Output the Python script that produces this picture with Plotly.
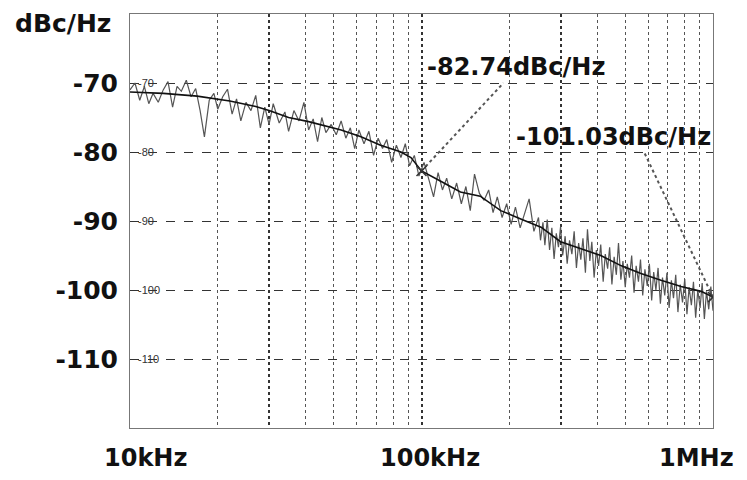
import plotly.graph_objects as go

# ---- data ----
noise_freq_khz = [10, 10.4, 10.8, 11.2, 11.6, 12, 12.5, 13, 13.5, 14,
                  14.5, 15, 15.6, 16.2, 16.8, 17.4, 18, 18.7, 19.4, 20,
                  20.8, 21.6, 22.4, 23.2, 24, 25, 26, 27, 28, 29, 30,
                  31, 32.5, 34, 35, 36.5, 38, 39.5, 41, 42.5, 44, 45.5, 47, 49,
                  51, 53, 55, 57, 59, 61, 63.5, 66, 68.5, 71, 73.5, 76, 79, 82, 85, 88, 91, 94.5, 98,
                  102, 106, 110, 114, 118, 122, 127, 132, 137, 142, 147, 152, 158, 164, 170, 176, 182,
                  189, 196, 203, 210, 218, 226, 234, 243,
                  252, 256, 261, 265, 270, 275, 280, 285, 290, 295,
                  300, 305, 311, 316, 322, 328, 334, 340, 346, 352,
                  358, 365, 371, 378, 384, 391, 398, 405, 412, 420,
                  427, 435, 442, 450, 458, 466, 474, 483, 491, 500,
                  508, 517, 526, 536, 545, 555, 564, 574, 584, 595,
                  605, 616, 626, 637, 648, 660, 671, 683, 695, 707,
                  720, 732, 745, 758, 772, 786, 800, 814, 828, 843,
                  857, 872, 887, 903, 918, 934, 950, 967, 983, 1000]
noise_dbc = [-71.0, -70.0, -72.5, -70.5, -73.0, -71.5, -72.8, -71.0, -69.8, -73.5, -70.5, -71.2, -69.6, -72.0,
             -70.8, -74.0, -77.8, -72.5, -71.5, -73.8, -72.0, -70.9, -74.5, -72.3, -75.5, -72.8, -74.0, -71.8,
             -76.5, -73.5, -76.0, -73.0, -75.8, -74.2, -77.0, -74.0, -75.5, -72.8, -76.8, -75.2, -78.5, -75.0,
             -77.2, -76.0, -77.5, -75.5, -78.0, -76.5, -79.5, -76.8, -78.8, -77.0, -80.5, -78.0, -79.5, -78.2,
             -81.5, -79.0, -80.8, -78.8, -82.0, -80.5, -83.5, -81.5, -84.0, -86.5, -83.0, -85.5, -83.8, -86.8,
             -84.5, -87.5, -85.0, -88.5, -83.2, -86.0, -87.0, -85.5, -88.8, -86.5, -89.5, -87.5, -90.5, -88.0,
             -91.0, -89.0, -86.8, -91.5,
             -89.5, -92.8, -90.2, -93.5, -89.8, -94.2, -91.0, -95.5, -91.8, -93.8,
             -90.8, -95.0, -92.2, -96.2, -92.8, -94.8, -91.5, -96.8, -93.2, -95.6,
             -92.5, -97.5, -91.2, -95.8, -93.0, -98.2, -94.2, -96.5, -93.4, -98.8,
             -94.8, -96.9, -93.8, -99.2, -95.2, -97.8, -93.2, -98.5, -95.8, -99.6,
             -96.2, -98.2, -95.0, -100.4, -96.5, -98.8, -95.6, -100.8, -97.0, -99.4,
             -96.2, -101.5, -97.4, -100.0, -96.8, -102.0, -98.2, -100.8, -97.5, -102.6,
             -98.6, -101.2, -97.8, -103.2, -99.2, -101.8, -98.4, -103.5, -99.6, -102.2,
             -98.8, -104.0, -100.0, -102.6, -99.0, -104.2, -100.2, -102.8, -99.5, -103.0]

trend_freq_khz = [10, 13, 17, 22, 27, 30, 35, 41, 53, 62, 72, 85, 92, 100, 116, 136, 159, 187, 219, 257,
                  300, 353, 412, 485, 566, 663, 777, 910, 1000]
trend_dbc = [-71.3, -71.5, -71.9, -72.6, -73.4, -74.0, -75.0, -75.6, -76.8, -77.8, -79.0, -80.0, -80.8, -82.74,
             -84.2, -85.8, -86.4, -88.5, -89.7, -90.9, -93.0, -94.0, -95.0, -96.5, -97.6, -98.6, -99.5, -100.2,
             -101.03]

marker_freq_khz = [100, 1000]
marker_dbc = [-82.74, -101.03]
marker_labels = ["-82.74dBc/Hz", "-101.03dBc/Hz"]
leader1_freq_khz = [100, 191]
leader1_dbc = [-82.74, -70.0]
leader2_freq_khz = [1000, 580]
leader2_dbc = [-101.03, -80.0]

x_tick_labels = ["10kHz", "100kHz", "1MHz"]
y_tick_vals = [-120, -110, -100, -90, -80, -70, -60]
y_tick_text = ["", "-110", "-100", "-90", "-80", "-70", ""]
inner_labels = [-70, -80, -90, -100, -110]
x_major_grid_khz = [10, 30, 100, 300, 1000]
x_minor_grid_khz = [20, 40, 50, 60, 70, 80, 90, 200, 400, 500, 600, 700, 800, 900]


def hz(arr):
    return [v * 1000 for v in arr]


fig = go.Figure()
fig.add_trace(go.Scatter(x=hz(noise_freq_khz), y=noise_dbc, mode="lines",
                         line=dict(color="#555555", width=1.2), showlegend=False))
fig.add_trace(go.Scatter(x=hz(trend_freq_khz), y=trend_dbc, mode="lines",
                         line=dict(color="#111111", width=1.6), showlegend=False))
for fx, fy in ((leader1_freq_khz, leader1_dbc), (leader2_freq_khz, leader2_dbc)):
    fig.add_trace(go.Scatter(x=hz(fx), y=fy, mode="lines",
                             line=dict(color="#555555", width=2, dash="dot"), showlegend=False))
fig.add_trace(go.Scatter(x=hz(marker_freq_khz), y=marker_dbc, mode="markers",
                         marker=dict(symbol="x-thin", size=10, line=dict(color="#333", width=1.5)),
                         showlegend=False))

bold = dict(family="DejaVu Sans", color="#111111", weight="bold")

anns = []
anns.append(dict(text=marker_labels[0], xref="paper", yref="paper", x=0.662, y=0.872,
                 xanchor="center", yanchor="middle", showarrow=False, font=dict(size=24, **bold)))
anns.append(dict(text=marker_labels[1], xref="paper", yref="paper", x=0.830, y=0.703,
                 xanchor="center", yanchor="middle", showarrow=False, font=dict(size=24, **bold)))
for lab, px in zip(x_tick_labels, [0.027, 0.515, 0.972]):
    anns.append(dict(text=lab, xref="paper", yref="paper", x=px, y=-0.072, xanchor="center",
                     yanchor="middle", showarrow=False, font=dict(size=24, **bold)))
anns.append(dict(text="dBc/Hz", xref="paper", yref="paper", x=-0.115, y=0.976, xanchor="center",
                 yanchor="middle", showarrow=False, font=dict(size=25, **bold)))
for v in inner_labels:
    anns.append(dict(text=str(v), xref="paper", yref="y", x=0.0, y=v, xanchor="left", yanchor="middle",
                     xshift=6, showarrow=False,
                     font=dict(family="Liberation Sans", size=11, color="#333")))

# the page body has an 8px default margin, so the figure is 8px smaller and offset by 8px
fig.update_layout(
    width=739, height=472,
    margin=dict(l=122, r=34, t=6, b=52),
    plot_bgcolor="white", paper_bgcolor="white",
    annotations=anns,
    xaxis=dict(type="log", range=[4, 6], tickvals=hz(x_major_grid_khz), showticklabels=False,
               showgrid=True, gridcolor="#333", gridwidth=1.5, griddash="dot", zeroline=False,
               showline=True, mirror=True, linecolor="#777", linewidth=1, ticks="",
               minor=dict(tickvals=hz(x_minor_grid_khz), showgrid=True, gridcolor="#555",
                          gridwidth=1, griddash="dot", ticks="")),
    yaxis=dict(range=[-120, -60], tickvals=y_tick_vals, ticktext=y_tick_text,
               showgrid=True, gridcolor="#333", gridwidth=1, griddash="dash", zeroline=False,
               showline=True, mirror=True, linecolor="#777", linewidth=1, ticks="",
               ticklabelstandoff=6, tickfont=dict(size=25, **bold)),
)

fig.write_html("out.html")
